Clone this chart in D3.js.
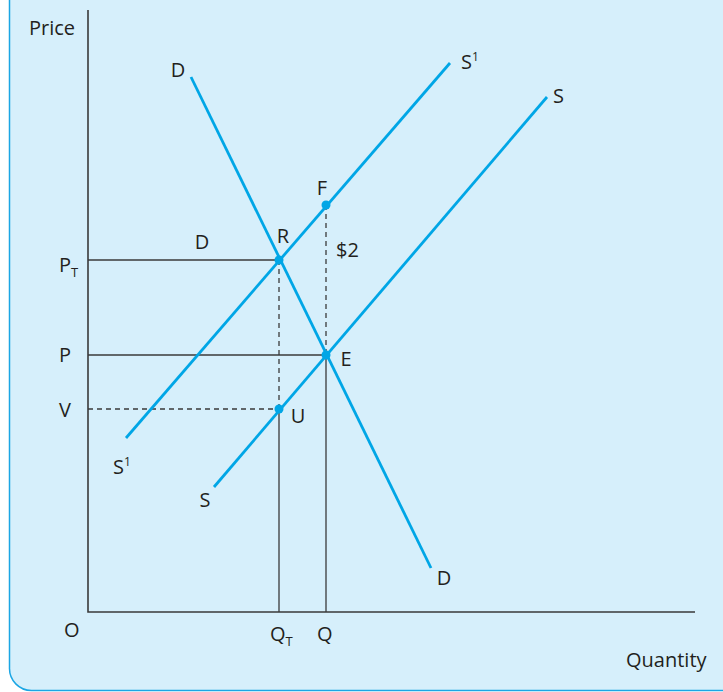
<!DOCTYPE html>
<html>
<head>
<meta charset="utf-8">
<script src="https://cdnjs.cloudflare.com/ajax/libs/d3/7.8.5/d3.min.js"></script>
<style>
body { margin: 0; background: #fff; }
svg text { font-family: "Open Sans", "Noto Sans", sans-serif; font-size: 20px; fill: #231f20; }
</style>
</head>
<body>
<div id="chart"></div>
<script>
// curves: [name, [q1, p1], [q2, p2]]
var curves = [
	["D", [103, 535], [343, 44]],
	["S", [126, 125], [459, 515]],
	["S1", [38, 174], [362, 549]]
];
// points on the curves
var points = [
	{name: "R", q: 191, p: 352},
	{name: "F", q: 238, p: 407},
	{name: "E", q: 238, p: 257},
	{name: "U", q: 191, p: 203}
];
// guide lines: [q1, p1, q2, p2, dashed]
var guides = [
	[0, 352, 191, 352, false],
	[0, 257, 238, 257, false],
	[0, 203, 191, 203, true],
	[191, 352, 191, 203, true],
	[191, 203, 191, 0, false],
	[238, 407, 238, 257, true],
	[238, 257, 238, 0, false]
];
// labels: [text, superscript, q, p, anchor]
var labels = [
	["D", "", 90, 542, "middle"],
	["S", "1", 373, 550, "start"],
	["S", "", 465, 516, "start"],
	["F", "", 234, 424, "middle"],
	["R", "", 195, 376, "middle"],
	["D", "", 114, 370, "middle"],
	["$2", "", 248, 362, "start"],
	["E", "", 258, 253, "middle"],
	["U", "", 210, 196, "middle"],
	["S", "1", 25, 145, "start"],
	["S", "", 117, 112, "middle"],
	["D", "", 356, 34, "middle"]
];
var yTicks = [["P", "T", 347], ["P", "", 257], ["V", "", 202]];
var xTicks = [["Q", "T", 191], ["Q", "", 238]];

var width = 723, height = 692;
var svg = d3.select("#chart").append("svg")
	.attr("width", width)
	.attr("height", height);

var x = d3.scaleLinear().domain([0, 607]).range([88, 695]);
var y = d3.scaleLinear().domain([0, 602]).range([612, 10]);

// panel
svg.append("path")
	.attr("d", "M9.5,-5 V668 A22,22 0 0 0 31.5,690.5 H730 V-5 Z")
	.attr("fill", "#d6effb")
	.attr("stroke", "#1ba6e4")
	.attr("stroke-width", 1.5);

// axes
svg.append("path")
	.attr("d", "M" + x(0) + "," + y(602) + " V" + y(0) + " H" + x(607))
	.attr("fill", "none")
	.attr("stroke", "#3a3a3a")
	.attr("stroke-width", 1.6);

svg.selectAll(".guide")
	.data(guides).enter()
	.append("line")
	.attr("class", "guide")
	.attr("x1", function(d){ return x(d[0]); })
	.attr("y1", function(d){ return y(d[1]); })
	.attr("x2", function(d){ return x(d[2]); })
	.attr("y2", function(d){ return y(d[3]); })
	.attr("stroke", "#3a3a3a")
	.attr("stroke-width", 1.3)
	.attr("stroke-dasharray", function(d){ return d[4] ? "5,4" : null; });

svg.selectAll(".curve")
	.data(curves).enter()
	.append("line")
	.attr("class", "curve")
	.attr("x1", function(d){ return x(d[1][0]); })
	.attr("y1", function(d){ return y(d[1][1]); })
	.attr("x2", function(d){ return x(d[2][0]); })
	.attr("y2", function(d){ return y(d[2][1]); })
	.attr("stroke", "#00a6e6")
	.attr("stroke-width", 2.8);

svg.selectAll(".pt")
	.data(points).enter()
	.append("circle")
	.attr("class", "pt")
	.attr("cx", function(d){ return x(d.q); })
	.attr("cy", function(d){ return y(d.p); })
	.attr("r", 4.5)
	.attr("fill", "#00a6e6");

function addLabel(t, s, px, py, anchor, subscript) {
	var el = svg.append("text")
		.attr("x", px)
		.attr("y", py)
		.attr("text-anchor", anchor)
		.text(t);
	if (s) {
		el.append("tspan")
			.attr("dy", subscript ? 5 : -8)
			.style("font-size", subscript ? "13px" : "12px")
			.text(s);
	}
}

labels.forEach(function(d){
	addLabel(d[0], d[1], x(d[2]), y(d[3]) + 7, d[4], false);
});
yTicks.forEach(function(d){
	addLabel(d[0], d[1], x(0) - 29, y(d[2]) + 7, "start", true);
});
xTicks.forEach(function(d){
	addLabel(d[0], d[1], x(d[2]) - 9, y(0) + 29, "start", true);
});

addLabel("Price", "", 29, 35, "start");
addLabel("O", "", 64, 637, "start");
addLabel("Quantity", "", 626, 667, "start");
</script>
</body>
</html>
